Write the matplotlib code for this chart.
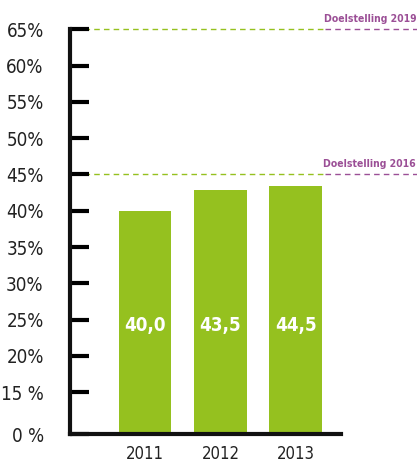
import matplotlib
matplotlib.use("Agg")
import matplotlib.pyplot as plt
import numpy as np

plt.rcParams['font.family'] = ['DejaVu Sans']
plt.rcParams['font.stretch'] = 'condensed'

years = ['2011', '2012', '2013']
shares = [40.0, 42.8, 43.4]          # bar heights as drawn in the picture
share_labels = ['40,0', '43,5', '44,5']
targets = [45, 65]
target_labels = ['Doelstelling 2016', 'Doelstelling 2019']
ticks = [0, 15, 20, 25, 30, 35, 40, 45, 50, 55, 60, 65]
tick_labels = ['0 %', '15 %', '20%', '25%', '30%', '35%', '40%', '45%', '50%', '55%', '60%', '65%']

green = '#95c11f'
purple = '#9b4f96'

# broken axis: 0-15 squeezed
k = 0.385
def fwd(v):
    v = np.asarray(v, dtype=float)
    return np.where(v >= 15, v, 15 - (15 - v) * k)

def inv(v):
    v = np.asarray(v, dtype=float)
    return np.where(v >= 15, v, 15 - (15 - v) / k)

fig = plt.figure(figsize=(4.17, 4.63), dpi=100)
ax = fig.add_axes([0.168, 0.0626, 0.650, 0.874])
ax.set_yscale('function', functions=(fwd, inv))

x = np.arange(len(years))
ax.bar(x, shares, width=0.70, color=green, zorder=2)
for xi, lab in zip(x, share_labels):
    ax.text(xi, 24.2, lab, ha='center', va='center', color='white',
            fontsize=13.5, fontweight='bold', zorder=3)

tr = ax.get_yaxis_transform()
for t, lab in zip(targets, target_labels):
    ax.plot([0.052, 0.934], [t, t], transform=tr, color=green, lw=1,
            dashes=(4, 3), clip_on=False, zorder=1)
    ax.plot([0.940, 1.28], [t, t], transform=tr, color=purple, lw=1,
            dashes=(4, 3), clip_on=False, zorder=1)
    ax.annotate(lab, xy=(1.277, t), xycoords=tr, xytext=(0, 4),
                textcoords='offset points', ha='right', va='bottom',
                color=purple, fontsize=7.5, fontweight='bold', annotation_clip=False)

ax.set_xlim(-0.993, 2.6)
ax.set_ylim(0, 65)
ax.set_yticks(ticks)
ax.set_yticklabels(tick_labels)
ax.set_xticks(x)
ax.set_xticklabels(years)
ax.minorticks_off()

ax.tick_params(axis='y', direction='in', length=14, width=3, pad=19,
               labelsize=13.5, labelcolor='#222222')
ax.tick_params(axis='x', direction='in', length=7, width=2, pad=8,
               labelsize=12, labelcolor='#222222')

for s in ['top', 'right']:
    ax.spines[s].set_visible(False)
for s in ['left', 'bottom']:
    ax.spines[s].set_linewidth(3)
    ax.spines[s].set_color('#111111')
    ax.spines[s].set_zorder(4)

plt.savefig('out.png', dpi=100)
